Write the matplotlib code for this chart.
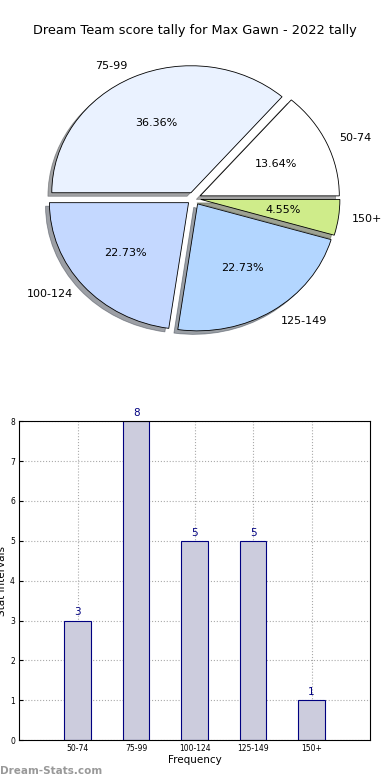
import matplotlib.pyplot as plt

# score buckets and counts
buckets = ['50-74', '75-99', '100-124', '125-149', '150+']
counts = [3, 8, 5, 5, 1]
pie_colors = ['#ffffff', '#eaf2ff', '#c4d8ff', '#b3d6ff', '#cfec8a']
yticks = [0, 1, 2, 3, 4, 5, 6, 7, 8]

fig = plt.figure(figsize=(3.9, 7.8), dpi=100)

# pie chart (old style, not forced round)
ax1 = fig.add_axes([0.051, 0.542, 0.892, 0.407])
ax1.pie(counts, labels=buckets, colors=pie_colors, autopct='%1.2f%%',
        explode=[0.05] * len(counts), shadow=True, startangle=0,
        wedgeprops={'edgecolor': 'black', 'linewidth': 0.6},
        textprops={'fontsize': 8})
ax1.set_aspect('auto')
fig.text(0.5, 0.961, 'Dream Team score tally for Max Gawn - 2022 tally',
         ha='center', va='center', fontsize=9.3)

# bar chart
ax2 = fig.add_axes([0.049, 0.051, 0.9, 0.409])
pos = list(range(1, len(buckets) + 1))
ax2.bar(pos, counts, width=0.45, color='#ccccdd', edgecolor='navy',
        linewidth=0.8, zorder=2)
for x, c in zip(pos, counts):
    ax2.text(x, c + 0.08, str(c), ha='center', va='bottom', color='navy',
             fontsize=7.5)
ax2.set_xlim(0, 6)
ax2.set_ylim(0, 8)
ax2.set_xticks(pos)
ax2.set_xticklabels(buckets, fontsize=5.5)
ax2.set_yticks(yticks)
ax2.tick_params(axis='y', labelsize=5.5, direction='in', length=3, pad=3)
ax2.tick_params(axis='x', direction='in', length=3, pad=3)
ax2.grid(True, linestyle=':', color='#aaaaaa', linewidth=0.8, zorder=0)
ax2.set_axisbelow(True)
ax2.set_xlabel('Frequency', fontsize=7.5, labelpad=1)
ax2.set_ylabel('Stat Intervals', fontsize=7.5, labelpad=2)
for s in ax2.spines.values():
    s.set_linewidth(0.8)

fig.text(0.0, 0.012, 'Dream-Stats.com', ha='left', va='center',
         fontsize=7.5, color='#999999', fontweight='bold')

plt.savefig('out.png', dpi=100)
plt.close()
